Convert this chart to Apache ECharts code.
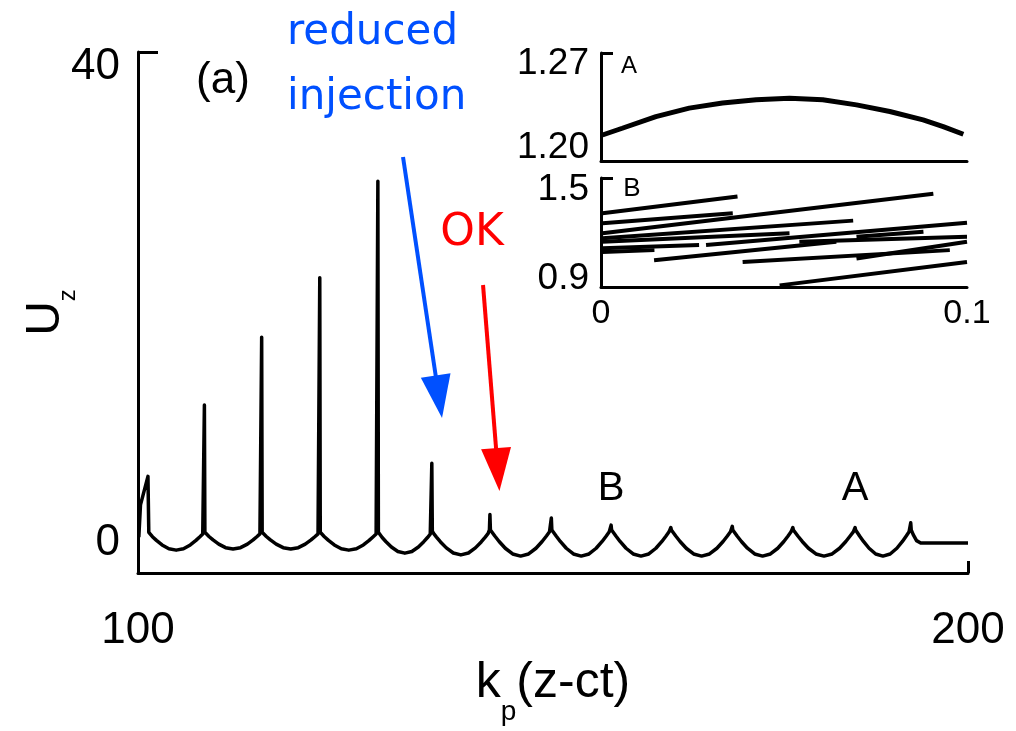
<!DOCTYPE html>
<html>
<head>
<meta charset="utf-8">
<script src="https://cdn.jsdelivr.net/npm/echarts@6/dist/echarts.min.js"></script>
<style>
html,body{margin:0;padding:0;background:#fff;}
#chart{width:1016px;height:731px;}
</style>
</head>
<body>
<div id="chart"></div>
<script>
// ---- main wake curve U_z vs kp(z-ct) ----
const wakeX = [
100.1, 100.3, 101.2, 101.3,
101.40, 101.74, 102.22, 102.90, 103.72, 104.60, 105.48, 106.30, 106.98, 107.46, 107.80,
107.94, 108.0, 108.06,
108.21, 108.55, 109.04, 109.73, 110.55, 111.45, 112.35, 113.18, 113.87, 114.35, 114.69,
114.84, 114.9, 114.96,
115.11, 115.46, 115.95, 116.65, 117.49, 118.4, 119.31, 120.15, 120.85, 121.34, 121.69,
121.84, 121.9, 121.96,
122.11, 122.46, 122.95, 123.65, 124.49, 125.4, 126.31, 127.15, 127.85, 128.34, 128.69,
128.84, 128.9, 128.96,
129.10, 129.42, 129.88, 130.53, 131.31, 132.15, 133.0, 133.78, 134.43, 134.88, 135.21,
135.34, 135.4, 135.46,
135.61, 135.96, 136.45, 137.15, 137.99, 138.9, 139.81, 140.65, 141.35, 141.84, 142.19,
142.34, 142.4, 142.46,
142.62, 142.99, 143.51, 144.25, 145.14, 146.1, 147.06, 147.95, 148.69, 149.21, 149.58,
149.74, 149.8, 149.86,
150.02, 150.38, 150.88, 151.6, 152.46, 153.4, 154.34, 155.2, 155.92, 156.42, 156.78,
156.94, 157.0, 157.06,
157.22, 157.58, 158.08, 158.8, 159.66, 160.6, 161.54, 162.4, 163.12, 163.62, 163.98,
164.14, 164.2, 164.26,
164.42, 164.79, 165.31, 166.05, 166.94, 167.9, 168.86, 169.75, 170.49, 171.01, 171.38,
171.54, 171.6, 171.66,
171.82, 172.18, 172.7, 173.43, 174.3, 175.25, 176.2, 177.08, 177.81, 178.32, 178.68,
178.84, 178.9, 178.96,
179.13, 179.5, 180.03, 180.78, 181.68, 182.65, 183.63, 184.53, 185.28, 185.8, 186.18,
186.34, 186.4, 186.46,
186.6, 186.94, 187.41, 188.08, 188.88, 189.75, 190.62, 191.43, 192.1, 192.56, 192.9,
193.04, 193.1, 193.16, 193.4, 193.8, 194.3, 200.0
];
const wakeU = [
0.5, 3.2, 5.6, 0.9,
0.76, 0.53, 0.22, -0.16, -0.48, -0.6, -0.48, -0.16, 0.22, 0.53, 0.76,
0.9, 11.6, 0.9,
0.77, 0.55, 0.26, -0.09, -0.39, -0.5, -0.39, -0.09, 0.26, 0.55, 0.77,
0.9, 17.3, 0.9,
0.77, 0.55, 0.26, -0.09, -0.39, -0.5, -0.39, -0.09, 0.26, 0.55, 0.77,
0.9, 22.3, 0.9,
0.76, 0.53, 0.22, -0.16, -0.48, -0.6, -0.48, -0.16, 0.22, 0.53, 0.76,
0.9, 30.4, 0.9,
0.74, 0.46, 0.11, -0.34, -0.71, -0.85, -0.71, -0.34, 0.11, 0.46, 0.74,
0.9, 6.7, 1.0,
0.81, 0.50, 0.09, -0.41, -0.84, -1.0, -0.84, -0.41, 0.09, 0.50, 0.81,
1.1, 2.4, 1.1,
0.94, 0.59, 0.13, -0.44, -0.92, -1.1, -0.92, -0.44, 0.13, 0.59, 0.94,
1.1, 2.1, 1.1,
0.94, 0.59, 0.13, -0.44, -0.92, -1.1, -0.92, -0.44, 0.13, 0.59, 0.94,
1.1, 1.5, 1.1,
0.94, 0.59, 0.13, -0.44, -0.92, -1.1, -0.92, -0.44, 0.13, 0.59, 0.94,
1.1, 1.3, 1.1,
0.94, 0.59, 0.13, -0.44, -0.92, -1.1, -0.92, -0.44, 0.13, 0.59, 0.94,
1.1, 1.4, 1.1,
0.94, 0.59, 0.13, -0.44, -0.92, -1.1, -0.92, -0.44, 0.13, 0.59, 0.94,
1.1, 1.3, 1.1,
0.94, 0.59, 0.13, -0.44, -0.92, -1.1, -0.92, -0.44, 0.13, 0.59, 0.94,
1.1, 1.3, 1.1,
0.94, 0.59, 0.13, -0.44, -0.92, -1.1, -0.92, -0.44, 0.13, 0.59, 0.94,
1.1, 1.7, 1.1, 0.7, 0.2, 0.0, 0.0
];

// ---- inset A ----
const insetAX = [0.0004, 0.0058, 0.015, 0.0241, 0.0332, 0.0424, 0.0515, 0.0606, 0.0698, 0.0789, 0.088, 0.0935, 0.099];
const insetAU = [1.2108, 1.2164, 1.2261, 1.2331, 1.2373, 1.2400, 1.2414, 1.2400, 1.2358, 1.2303, 1.2233, 1.2178, 1.2114];

// ---- inset B: segments [x0, u0, x1, u1] ----
const insetBSegments = [
  [0.0004, 1.341, 0.0373, 1.454],
  [0.0004, 1.273, 0.0360, 1.341],
  [0.0004, 1.205, 0.0908, 1.473],
  [0.0004, 1.171, 0.0689, 1.291],
  [0.0287, 1.125, 0.1000, 1.277],
  [0.0145, 1.023, 0.0643, 1.148],
  [0.0387, 1.011, 0.0953, 1.091],
  [0.0488, 0.852, 0.1000, 1.011],
  [0.0004, 1.103, 0.0268, 1.125],
  [0.0004, 1.148, 0.0515, 1.205],
  [0.0698, 1.034, 0.1000, 1.148],
  [0.0542, 1.148, 0.1000, 1.182],
  [0.0004, 1.079, 0.0146, 1.091],
  [0.0698, 1.182, 0.0881, 1.216]
];

// ---- tick labels ----
const mainXTicks = [100, 200];
const mainYTicks = [0, 40];
const insetAYTicks = [1.20, 1.27];
const insetBYTicks = [0.9, 1.5];
const insetXTicks = [0, 0.1];

// ---- axis ranges ----
const mainYMin = -2.52, mainYMax = 41.26;
const insetAMin = 1.1892, insetAMax = 1.2789;
const insetBMin = 0.841, insetBMax = 1.580;

const FONT = '"Liberation Sans", Arial, sans-serif';
const HAND = '"Comic Sans MS", "DejaVu Sans", sans-serif';

const chart = echarts.init(document.getElementById('chart'), null, {renderer: 'canvas'});

const axisLine = {onZero: false, lineStyle: {color: '#000', width: 3}};
function tick(vals, len) {
  return {show: true, customValues: vals, inside: true, length: len, lineStyle: {color: '#000', width: 3}};
}

const series = [
  {
    type: 'line', xAxisIndex: 0, yAxisIndex: 0, showSymbol: false, animation: false,
    lineStyle: {color: '#000', width: 3.5, join: 'round'}, z: 3,
    data: wakeX.map((x, i) => [x, wakeU[i]])
  },
  {
    type: 'line', xAxisIndex: 1, yAxisIndex: 1, showSymbol: false, animation: false,
    lineStyle: {color: '#000', width: 5},
    data: insetAX.map((x, i) => [x, insetAU[i]])
  }
];
insetBSegments.forEach(s => {
  series.push({
    type: 'line', xAxisIndex: 2, yAxisIndex: 2, showSymbol: false, animation: false,
    lineStyle: {color: '#000', width: 4},
    data: [[s[0], s[1]], [s[2], s[3]]]
  });
});

chart.setOption({
  backgroundColor: '#fff',
  animation: false,
  grid: [
    {left: 138, top: 52, width: 830, height: 521, outerBoundsMode: 'none', containLabel: false},
    {left: 601, top: 53, width: 366, height: 108, outerBoundsMode: 'none', containLabel: false},
    {left: 601, top: 178, width: 366, height: 109, outerBoundsMode: 'none', containLabel: false}
  ],
  xAxis: [
    {
      gridIndex: 0, type: 'value', min: 100, max: 200,
      splitLine: {show: false}, axisLine: axisLine,
      axisTick: tick([200], 12),
      axisLabel: {customValues: mainXTicks, fontSize: 44, color: '#000', margin: 36, fontFamily: FONT},
      name: '{k|k}{p|p}{t|(z-ct)}', nameLocation: 'middle', nameGap: 84,
      nameTextStyle: {
        rich: {
          k: {fontSize: 50, fontFamily: FONT, color: '#000'},
          p: {fontSize: 28, fontFamily: FONT, color: '#000', verticalAlign: 'bottom', padding: [0, 0, -18, 0]},
          t: {fontSize: 50, fontFamily: FONT, color: '#000'}
        }
      }
    },
    {
      gridIndex: 1, type: 'value', min: 0, max: 0.1,
      splitLine: {show: false}, axisLine: axisLine,
      axisTick: {show: false}, axisLabel: {show: false}
    },
    {
      gridIndex: 2, type: 'value', min: 0, max: 0.1,
      splitLine: {show: false}, axisLine: axisLine,
      axisTick: {show: false},
      axisLabel: {customValues: insetXTicks, fontSize: 34, color: '#000', margin: 10, fontFamily: FONT}
    }
  ],
  yAxis: [
    {
      gridIndex: 0, type: 'value', min: mainYMin, max: mainYMax,
      splitLine: {show: false}, axisLine: axisLine,
      axisTick: tick([mainYMax], 20),
      axisLabel: {customValues: mainYTicks, fontSize: 44, color: '#000', margin: 18, fontFamily: FONT},
      name: '{u|U}{z|z}', nameLocation: 'middle', nameGap: 68, nameMoveOverlap: false,
      nameTextStyle: {
        rich: {
          u: {fontSize: 48, fontFamily: FONT, color: '#000'},
          z: {fontSize: 24, fontFamily: FONT, color: '#000', verticalAlign: 'bottom', padding: [0, 0, -10, 0]}
        }
      }
    },
    {
      gridIndex: 1, type: 'value', min: insetAMin, max: insetAMax,
      splitLine: {show: false}, axisLine: axisLine,
      axisTick: tick([insetAMax], 12),
      axisLabel: {customValues: insetAYTicks, fontSize: 37, color: '#000', margin: 12, fontFamily: FONT,
        formatter: v => v.toFixed(2)}
    },
    {
      gridIndex: 2, type: 'value', min: insetBMin, max: insetBMax,
      splitLine: {show: false}, axisLine: axisLine,
      axisTick: tick([insetBMax], 12),
      axisLabel: {customValues: insetBYTicks, fontSize: 37, color: '#000', margin: 12, fontFamily: FONT,
        formatter: v => v.toFixed(1)}
    }
  ],
  series: series
});

// ---- annotations (data coordinates of the main plot) ----
const blueArrow = {from: [131.93, 32.44], to: [136.63, 10.5], color: '#0050ff'};
const redArrow = {from: [141.57, 21.68], to: [143.55, 4.37], color: '#ff0000'};

function arrowGraphics(a) {
  const p0 = chart.convertToPixel({gridIndex: 0}, a.from);
  const p1 = chart.convertToPixel({gridIndex: 0}, a.to);
  const dx = p1[0] - p0[0], dy = p1[1] - p0[1];
  const len = Math.hypot(dx, dy);
  const ux = dx / len, uy = dy / len;
  const L = 43, W = 15;
  const bx = p1[0] - ux * L, by = p1[1] - uy * L;
  return [
    {type: 'line', shape: {x1: p0[0], y1: p0[1], x2: bx + ux * 2, y2: by + uy * 2},
      style: {stroke: a.color, lineWidth: 4}, z: 10},
    {type: 'polygon', shape: {points: [[p1[0], p1[1]], [bx - uy * W, by + ux * W], [bx + uy * W, by - ux * W]]},
      style: {fill: a.color}, z: 10}
  ];
}

function txt(text, x, y, size, color, font, align) {
  return {type: 'text', x: x, y: y, z: 10,
    style: {text: text, fontSize: size, fill: color, fontFamily: font,
      align: align || 'center', verticalAlign: 'middle'}};
}

chart.setOption({
  graphic: [].concat(
    arrowGraphics(blueArrow),
    arrowGraphics(redArrow),
    [
      txt('reduced', 287, 33, 42, '#0050ff', HAND, 'left'),
      txt('injection', 287, 98, 42, '#0050ff', HAND, 'left'),
      txt('OK', 472, 234, 44, '#ff0000', HAND),
      txt('(a)', 223, 81, 44, '#000', FONT),
      txt('B', 611, 489, 40, '#000', FONT),
      txt('A', 855, 489, 40, '#000', FONT),
      txt('A', 629, 66, 24, '#000', FONT),
      txt('B', 632, 189, 26, '#000', FONT)
    ]
  )
});
</script>
</body>
</html>
